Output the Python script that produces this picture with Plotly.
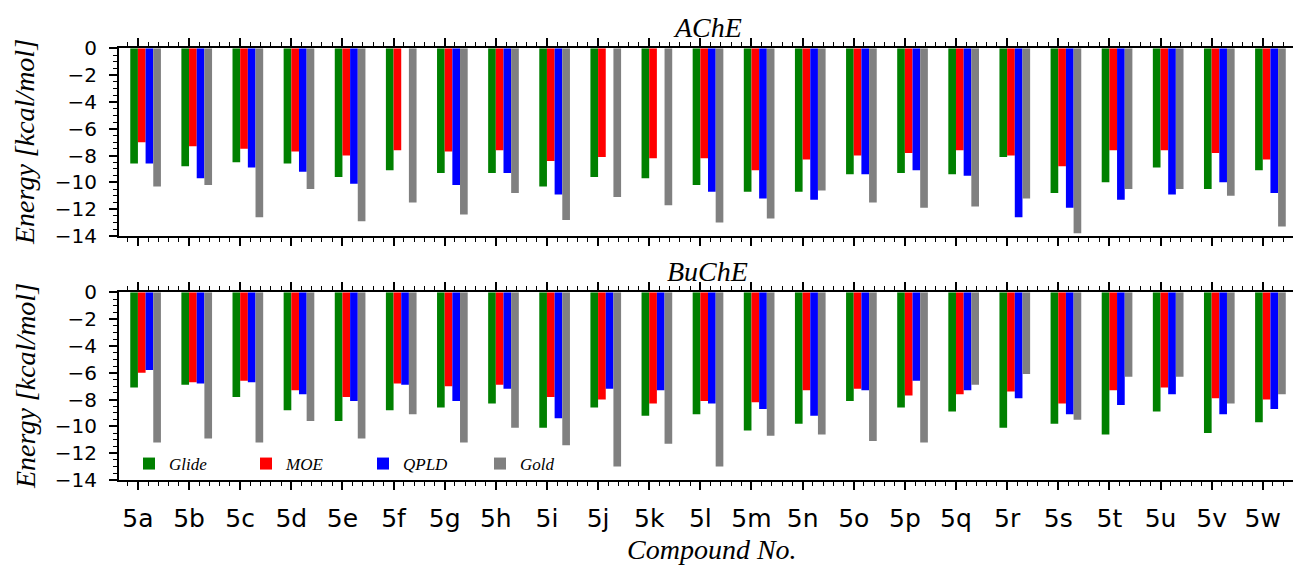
import plotly.graph_objects as go
from plotly.subplots import make_subplots

compounds = ["5a", "5b", "5c", "5d", "5e", "5f", "5g", "5h", "5i", "5j", "5k", "5l",
             "5m", "5n", "5o", "5p", "5q", "5r", "5s", "5t", "5u", "5v", "5w"]
methods = ["Glide", "MOE", "QPLD", "Gold"]
colors = ["#008000", "#ff0000", "#0000ff", "#808080"]

# AChE docking energies (kcal/mol)
ache_glide = [-8.6, -8.8, -8.5, -8.6, -9.6, -9.1, -9.3, -9.3, -10.3, -9.6, -9.7, -10.2,
              -10.7, -10.7, -9.4, -9.3, -9.4, -8.1, -10.8, -10.0, -8.9, -10.5, -9.1]
ache_moe = [-7.0, -7.3, -7.5, -7.7, -8.0, -7.6, -7.7, -7.6, -8.4, -8.1, -8.2, -8.2,
            -9.1, -8.3, -8.0, -7.8, -7.6, -8.0, -8.8, -7.6, -7.6, -7.8, -8.3]
ache_qpld = [-8.6, -9.7, -8.9, -9.2, -10.1, None, -10.2, -9.3, -10.9, None, None, -10.7,
             -11.2, -11.3, -9.4, -9.1, -9.5, -12.6, -11.9, -11.3, -10.9, -10.0, -10.8]
ache_gold = [-10.3, -10.2, -12.6, -10.5, -12.9, -11.5, -12.4, -10.8, -12.8, -11.1, -11.7, -13.0,
             -12.7, -10.6, -11.5, -11.9, -11.8, -11.2, -13.8, -10.5, -10.5, -11.0, -13.3]

# BuChE docking energies (kcal/mol)
buche_glide = [-7.1, -6.9, -7.8, -8.8, -9.6, -8.8, -8.6, -8.3, -10.1, -8.6, -9.2, -9.1,
               -10.3, -9.8, -8.1, -8.6, -8.9, -10.1, -9.8, -10.6, -8.9, -10.5, -9.7]
buche_moe = [-6.0, -6.7, -6.6, -7.3, -7.8, -6.8, -7.0, -6.9, -7.8, -8.0, -8.3, -8.1,
             -8.2, -7.3, -7.2, -7.7, -7.6, -7.4, -8.3, -7.3, -7.1, -7.9, -8.0]
buche_qpld = [-5.8, -6.8, -6.7, -7.6, -8.1, -6.9, -8.1, -7.2, -9.4, -7.2, -7.3, -8.3,
              -8.7, -9.2, -7.3, -6.6, -7.3, -7.9, -9.1, -8.4, -7.6, -9.1, -8.7]
buche_gold = [-11.2, -10.9, -11.2, -9.6, -10.9, -9.1, -11.2, -10.1, -11.4, -13.0, -11.3, -13.0,
              -10.7, -10.6, -11.1, -11.2, -6.9, -6.1, -9.5, -6.3, -6.3, -8.3, -7.6]

y_ticks = [0, -2, -4, -6, -8, -10, -12, -14]
y_ticktext = ["0", "\u22122", "\u22124", "\u22126", "\u22128", "\u221210", "\u221212", "\u221214"]

ache = [ache_glide, ache_moe, ache_qpld, ache_gold]
buche = [buche_glide, buche_moe, buche_qpld, buche_gold]
xpos = list(range(len(compounds)))
bar_w = 0.15

fig = make_subplots(rows=2, cols=1)
for i, m in enumerate(methods):
    fig.add_trace(go.Bar(x=xpos, y=ache[i], name=m, marker_color=colors[i],
                         marker_line_width=0, width=bar_w, offset=-bar_w + i * bar_w,
                         showlegend=False, legendgroup=m), row=1, col=1)
for i, m in enumerate(methods):
    fig.add_trace(go.Bar(x=xpos, y=buche[i], name=m, marker_color=colors[i],
                         marker_line_width=0, width=bar_w, offset=-bar_w + i * bar_w,
                         showlegend=True, legendgroup=m), row=2, col=1)

serif = "Liberation Serif"
sans = "DejaVu Sans"
axis_common = dict(showline=True, linecolor="black", linewidth=2, mirror="ticks",
                   ticks="outside", ticklen=8, tickwidth=1.5, tickcolor="black",
                   showgrid=False, zeroline=False, automargin=False)

for ax in ["xaxis", "xaxis2"]:
    fig.layout[ax].update(
        range=[-0.37, 22.65], tickvals=xpos, ticktext=compounds,
        minor=dict(dtick=0.2, tick0=0, ticks="outside", ticklen=4, tickwidth=1.2,
                   tickcolor="black", showgrid=False),
        tickfont=dict(family=sans, size=25, color="black"),
        ticklabelstandoff=7,
        **axis_common)
fig.layout.xaxis.showticklabels = False

for ax in ["yaxis", "yaxis2"]:
    fig.layout[ax].update(
        range=[-14, 0], tickvals=y_ticks, ticktext=y_ticktext,
        minor=dict(dtick=0.5, tick0=0, ticks="outside", ticklen=4, tickwidth=1.2,
                   tickcolor="black", showgrid=False),
        tickfont=dict(family=sans, size=20, color="black"),
        ticklabelstandoff=8,
        **axis_common)

# page body has an 8px margin: work in page pixels and shift
OFF = 8
W, H = 1293, 558
L, R = 119 - OFF, 5
pw = W - L - R


def px2x(px):
    return (px - OFF - L) / pw


def py2y(py):
    return 1 - (py - OFF) / H


fig.layout.yaxis.domain = [py2y(236), py2y(48.3)]
fig.layout.yaxis2.domain = [py2y(480), py2y(292.3)]
fig.layout.xaxis.domain = [0, 1]
fig.layout.xaxis2.domain = [0, 1]

tfont = dict(family=serif, size=28, color="black")
annotations = [
    dict(text="<i>AChE</i>", x=0.5, y=py2y(27), xref="paper", yref="paper",
         showarrow=False, font=tfont, xanchor="center", yanchor="middle"),
    dict(text="<i>BuChE</i>", x=0.5, y=py2y(271), xref="paper", yref="paper",
         showarrow=False, font=tfont, xanchor="center", yanchor="middle"),
    dict(text="<i>Compound No.</i>", x=px2x(712), y=py2y(549), xref="paper", yref="paper",
         showarrow=False, font=tfont, xanchor="center", yanchor="middle"),
    dict(text="<i>Energy [kcal/mol]</i>", x=px2x(25), y=py2y(142), xref="paper", yref="paper",
         showarrow=False, font=tfont, textangle=-90, xanchor="center", yanchor="middle"),
    dict(text="<i>Energy [kcal/mol]</i>", x=px2x(25), y=py2y(386), xref="paper", yref="paper",
         showarrow=False, font=tfont, textangle=-90, xanchor="center", yanchor="middle"),
]

fig.update_layout(
    width=W, height=H,
    margin=dict(l=L, r=R, t=0, b=0, autoexpand=False),
    paper_bgcolor="white", plot_bgcolor="white",
    barmode="overlay",
    annotations=annotations,
    legend=dict(orientation="h", x=px2x(129), y=py2y(464), xanchor="left", yanchor="middle",
                bgcolor="rgba(0,0,0,0)", borderwidth=0,
                font=dict(family=serif, size=17, color="black", style="italic"),
                entrywidth=72, entrywidthmode="pixels", itemwidth=30,
                traceorder="normal"),
)

fig.write_html("out.html")
